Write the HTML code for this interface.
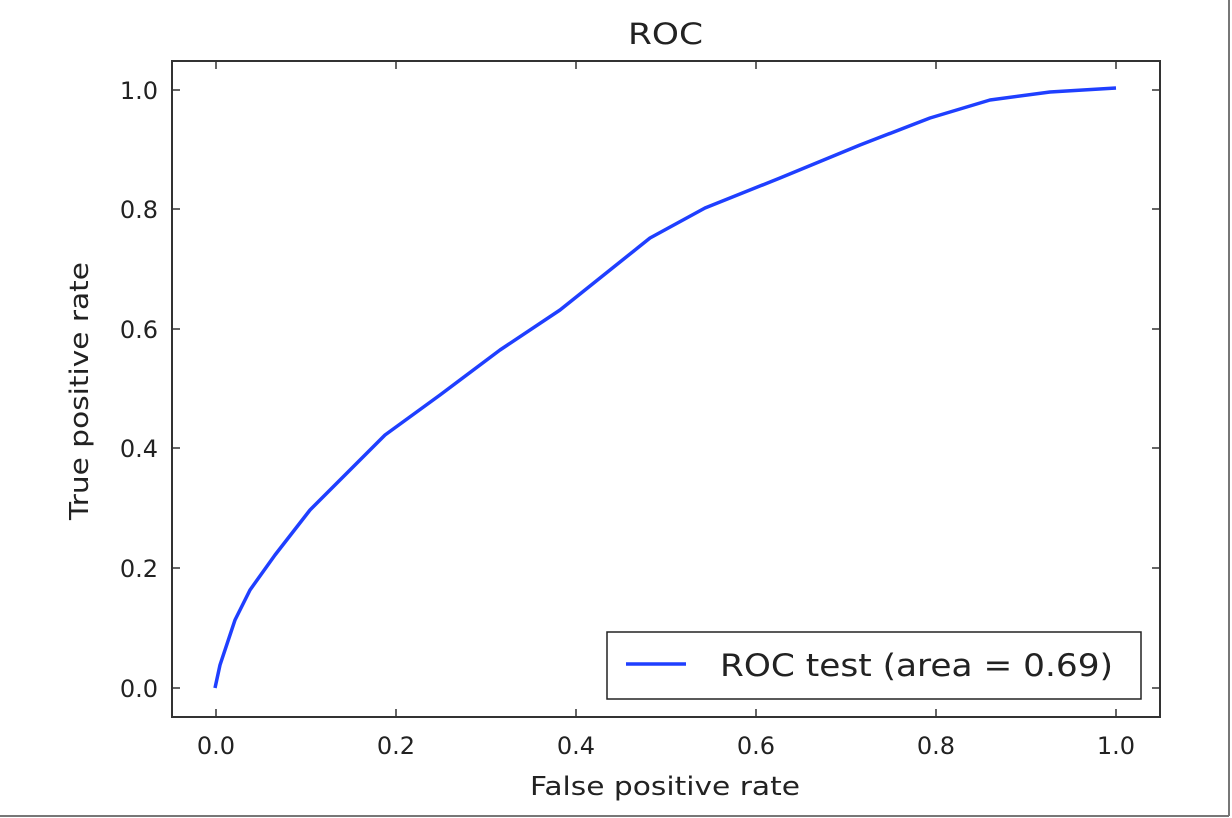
<!DOCTYPE html>
<html><head><style>body{margin:0;background:#fff}svg{display:block}</style></head><body>
<svg width="1232" height="818" xmlns="http://www.w3.org/2000/svg" font-family="DejaVu Sans, Liberation Sans, sans-serif">
<rect x="0" y="0" width="1232" height="818" fill="#fff"/>
<line x1="1229" y1="0" x2="1229" y2="816" stroke="#777" stroke-width="2"/>
<line x1="0" y1="816" x2="1229" y2="816" stroke="#777" stroke-width="2"/>
<text x="628" y="44" font-size="29" textLength="75" lengthAdjust="spacingAndGlyphs" fill="#222">ROC</text>
<rect x="172" y="61" width="988" height="656" fill="none" stroke="#333" stroke-width="2"/>
<g stroke="#333" stroke-width="1.5">
<line x1="216" y1="717" x2="216" y2="709"/><line x1="216" y1="61" x2="216" y2="69"/>
<line x1="396" y1="717" x2="396" y2="709"/><line x1="396" y1="61" x2="396" y2="69"/>
<line x1="576" y1="717" x2="576" y2="709"/><line x1="576" y1="61" x2="576" y2="69"/>
<line x1="756" y1="717" x2="756" y2="709"/><line x1="756" y1="61" x2="756" y2="69"/>
<line x1="936" y1="717" x2="936" y2="709"/><line x1="936" y1="61" x2="936" y2="69"/>
<line x1="1116" y1="717" x2="1116" y2="709"/><line x1="1116" y1="61" x2="1116" y2="69"/>
<line x1="172" y1="688" x2="180" y2="688"/><line x1="1160" y1="688" x2="1152" y2="688"/>
<line x1="172" y1="568" x2="180" y2="568"/><line x1="1160" y1="568" x2="1152" y2="568"/>
<line x1="172" y1="448" x2="180" y2="448"/><line x1="1160" y1="448" x2="1152" y2="448"/>
<line x1="172" y1="329" x2="180" y2="329"/><line x1="1160" y1="329" x2="1152" y2="329"/>
<line x1="172" y1="209" x2="180" y2="209"/><line x1="1160" y1="209" x2="1152" y2="209"/>
<line x1="172" y1="90" x2="180" y2="90"/><line x1="1160" y1="90" x2="1152" y2="90"/>
</g>
<g font-size="24" fill="#222" text-anchor="middle">
<text x="216" y="754">0.0</text><text x="396" y="754">0.2</text><text x="576" y="754">0.4</text>
<text x="756" y="754">0.6</text><text x="936" y="754">0.8</text><text x="1116" y="754">1.0</text>
</g>
<g font-size="24" fill="#222" text-anchor="end">
<text x="158" y="697">0.0</text><text x="158" y="577">0.2</text><text x="158" y="457">0.4</text>
<text x="158" y="338">0.6</text><text x="158" y="218">0.8</text><text x="158" y="99">1.0</text>
</g>
<text x="530" y="795" font-size="26" textLength="270" lengthAdjust="spacingAndGlyphs" fill="#222">False positive rate</text>
<text transform="translate(88,520) rotate(-90)" font-size="26" textLength="258" lengthAdjust="spacingAndGlyphs" fill="#222">True positive rate</text>
<path d="M215,688 L220,665 L235,620 L250,590 L275,555 L310,510 L345,475 L385,435 L440,395 L500,350 L560,310 L610,270 L650,238 L705,208 L780,178 L860,145 L930,118 L990,100 L1050,92 L1116,88" fill="none" stroke="#1f3fff" stroke-width="3.5" stroke-linejoin="round"/>
<rect x="607" y="632" width="534" height="67" fill="#fff" stroke="#222" stroke-width="1.5"/>
<line x1="626" y1="664" x2="686" y2="664" stroke="#1f3fff" stroke-width="3.5"/>
<text x="720" y="676" font-size="31" textLength="393" lengthAdjust="spacingAndGlyphs" fill="#222">ROC test (area = 0.69)</text>
</svg>
</body></html>
